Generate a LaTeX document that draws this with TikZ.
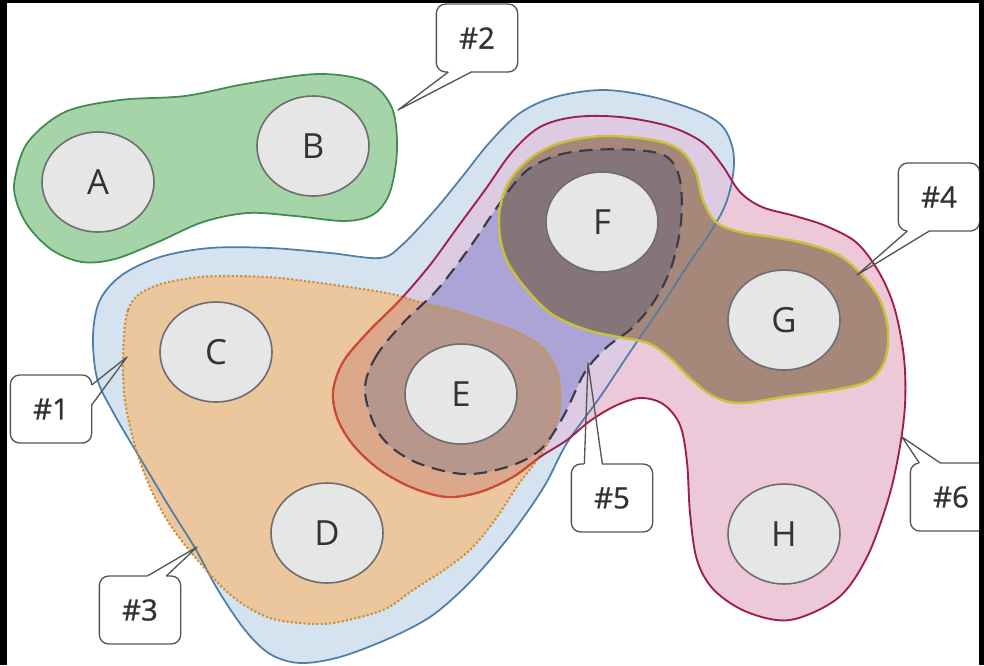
\documentclass[tikz,border=0pt]{standalone}
\usepackage{fontspec}
\setmainfont{Open Sans}
\newfontfamily\calloutfont[FakeBold=0.9]{Open Sans}
\usetikzlibrary{shapes.geometric,calc}

\definecolor{greenFill}{HTML}{A4D4A8}
\definecolor{greenLine}{HTML}{3F8B50}
\definecolor{blueFill}{HTML}{D5E3F1}
\definecolor{blueLine}{HTML}{4E7EA6}
\definecolor{orangeFill}{HTML}{ECC69C}
\definecolor{orangeDots}{HTML}{C8923E}
\definecolor{pinkFill}{HTML}{EDC8D8}
\definecolor{lilacFill}{HTML}{DDCBE3}
\definecolor{apricotFill}{HTML}{DCA88B}
\definecolor{purpleFill}{HTML}{ACA4D6}
\definecolor{mauveFill}{HTML}{B7968C}
\definecolor{brownFill}{HTML}{A6887B}
\definecolor{darkFill}{HTML}{857579}
\definecolor{redLine}{HTML}{9E1F4E}
\definecolor{redOrange}{HTML}{D04A2E}
\definecolor{dashLine}{HTML}{3A3A48}
\definecolor{yellowLine}{HTML}{C9C23A}
\definecolor{circleFill}{HTML}{E6E6E6}
\definecolor{circleLine}{HTML}{6E6E6E}
\definecolor{boxLine}{HTML}{555555}
\definecolor{textGray}{HTML}{333333}

% Outlines of the groups (pixel coordinates, y down).
\newcommand{\greenpath}{plot[smooth cycle, tension=0.55] coordinates {
    (15,178) (28,142) (65,112) (120,100) (185,96) (245,84) (318,74) (368,82)
    (392,108) (397,150) (390,192) (374,214) (345,221) (295,216) (248,213)
    (203,222) (158,242) (115,259) (82,262) (52,250) (28,226) (16,200)}}
\newcommand{\bluepath}{plot[smooth cycle, tension=0.55] coordinates {
    (93,335) (100,300) (122,275) (160,257) (210,248) (270,248) (330,253)
    (380,258) (402,245) (435,210) (462,177) (490,142) (520,113) (555,97)
    (603,90) (653,97) (700,112) (723,127) (733,150) (733,175) (726,203)
    (713,228) (688,265) (660,308) (630,352) (600,397) (567,443) (545,485)
    (518,525) (490,560) (462,590) (430,617) (390,638) (340,657) (300,663)
    (270,654) (245,630) (218,590) (195,548) (170,508) (140,458) (113,412)
    (97,378)}}
\newcommand{\orangepath}{plot[smooth cycle, tension=0.55] coordinates {
    (123,365) (128,310) (150,288) (200,277) (267,277) (320,283) (387,293)
    (420,302) (453,310) (487,321) (520,333) (545,350) (558,375) (560,407)
    (552,435) (537,460) (518,485) (497,517) (473,547) (447,568) (413,590)
    (383,610) (333,623) (300,623) (267,617) (233,597) (200,563) (167,520)
    (143,470) (127,413)}}
\newcommand{\redpath}{plot[smooth cycle, tension=0.55] coordinates {
    (333,392) (343,362) (368,332) (400,300) (430,265) (457,228) (485,190)
    (512,152) (540,127) (575,117) (620,117) (668,126) (702,142) (722,165)
    (740,192) (762,207) (795,216) (826,226) (857,243) (880,274) (895,310)
    (904,358) (905,405) (899,452) (888,500) (867,557) (838,598) (790,620)
    (747,612) (714,590) (697,560) (690,513) (687,462) (680,425) (663,404)
    (640,398) (615,406) (590,421) (567,440) (540,457) (513,477) (480,492)
    (447,497) (413,488) (380,470) (354,446) (338,420)}}
\newcommand{\dashpath}{plot[smooth cycle, tension=0.55] coordinates {
    (365,392) (375,358) (403,323) (437,290) (470,247) (500,203) (525,172)
    (555,156) (590,150) (637,150) (667,157) (680,180) (681,222) (672,265)
    (655,300) (632,328) (607,347) (585,372) (563,417) (540,450) (507,467)
    (463,474) (413,461) (380,435)}}
\newcommand{\yellowpath}{plot[smooth cycle, tension=0.55] coordinates {
    (500,208) (510,180) (532,157) (560,143) (603,136) (653,140) (680,150)
    (695,170) (703,200) (716,222) (740,232) (772,237) (808,244) (840,256)
    (862,275) (880,300) (888,330) (885,360) (870,380) (840,389) (790,396)
    (740,403) (713,396) (690,378) (670,358) (648,343) (618,337) (587,330)
    (553,315) (527,290) (508,263) (500,237)}}

\begin{document}
\begin{tikzpicture}[x=0.75pt, y=-0.75pt, line join=round,
    member/.style={ellipse, draw=circleLine, fill=circleFill, line width=1.2pt,
        minimum width=84pt, minimum height=75pt, inner sep=0pt,
        text=textGray, font=\fontsize{26}{30}\selectfont},
    callout/.style={draw=boxLine, fill=white, rounded corners=7pt, line width=1pt,
        minimum width=61pt, minimum height=51pt, inner sep=0pt, outer sep=0pt,
        text=textGray, font=\calloutfont\fontsize{22}{26}\selectfont},
    tail/.style={draw=boxLine, line width=1pt}]

\fill[black] (0,0) rectangle (984,665);
\begin{scope}
\clip (7,3) rectangle (979,665);
\fill[white] (7,3) rectangle (979,665);

% Fills, overlaps painted in their own shade.
\fill[blueFill] \bluepath;
\fill[orangeFill] \orangepath;
\fill[pinkFill] \redpath;
\begin{scope}
    \clip \bluepath;
    \fill[lilacFill] \redpath;
\end{scope}
\begin{scope}
    \clip \orangepath;
    \fill[apricotFill] \redpath;
\end{scope}
\fill[purpleFill] \dashpath;
\begin{scope}
    \clip \dashpath;
    \fill[mauveFill] \orangepath;
\end{scope}
\fill[brownFill] \yellowpath;
\begin{scope}
    \clip \dashpath;
    \fill[darkFill] \yellowpath;
\end{scope}
\fill[greenFill] \greenpath;

% Outlines.
\draw[blueLine, line width=1.3pt] \bluepath;
\draw[orangeDots, line width=1.6pt, dash pattern=on 1.6pt off 1.6pt] \orangepath;
\draw[redLine, line width=1.4pt] \redpath;
\begin{scope}
    \clip \orangepath;
    \draw[redOrange, line width=1.4pt] \redpath;
\end{scope}
\draw[dashLine, line width=1.6pt, dash pattern=on 10pt off 6pt] \dashpath;
\draw[yellowLine, line width=1.8pt] \yellowpath;
\draw[greenLine, line width=1.3pt] \greenpath;

% Members.
\foreach \n/\x/\y in {A/98/182, B/313/146, C/216/352, D/327/533,
                      E/461/394, F/602/222, G/784/320, H/784/534}{
    \node[member] (\n) at (\x,\y) {\n};
}

% Callouts.
\foreach \n/\x/\y in {1/51/409, 2/477/38, 3/140/610, 4/939/197, 5/612/498, 6/951/497}{
    \node[callout] (c\n) at (\x,\y) {\#\n};
}
\foreach \n/\x/\y in {1/127/357, 2/398/110, 3/197/547, 4/857/275, 5/588/363, 6/902/437}{
    \coordinate (t\n) at (\x,\y);
}
\foreach \n/\a/\dx/\dy/\ex/\ey in {1/north east/0/10/0/30, 2/south west/12/0/35/0,
        3/north west/48/0/67/0, 4/south west/9/0/31/0,
        5/north west/13/0/31/0, 6/north west/9/0/30/0}{
    \draw[white, line width=2pt] ($(c\n.\a)+(\dx,\dy)$) -- ($(c\n.\a)+(\ex,\ey)$);
    \draw[tail] ($(c\n.\a)+(\dx,\dy)$) -- (t\n) -- ($(c\n.\a)+(\ex,\ey)$);
}
\end{scope}
\end{tikzpicture}
\end{document}
